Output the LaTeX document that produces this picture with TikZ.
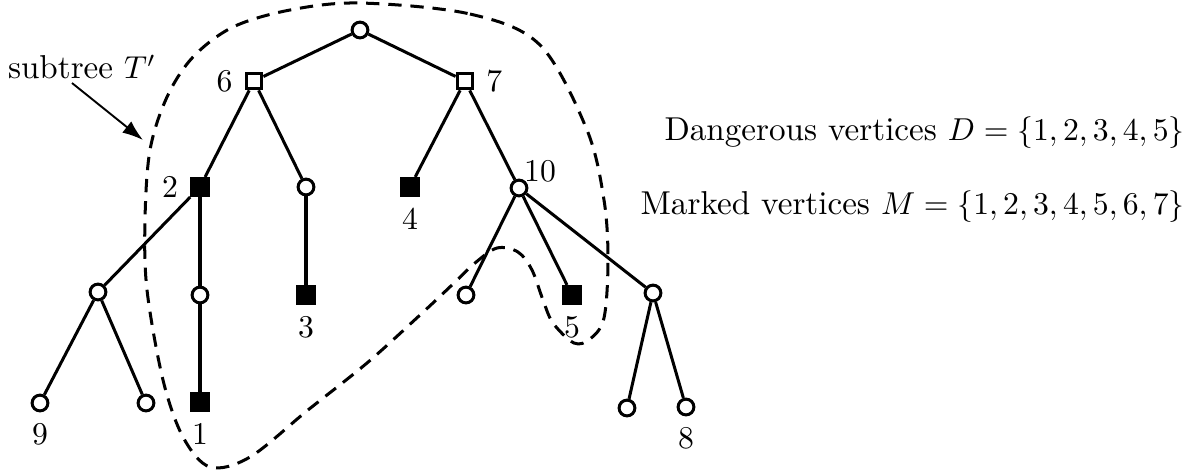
\documentclass[tikz,border=0pt]{standalone}
\usepackage{amsmath}
\usetikzlibrary{arrows.meta}

\begin{document}
\begin{tikzpicture}[x=0.0111cm,y=-0.0111cm,line width=0.95pt,
  font=\fontsize{10.45}{13}\selectfont,
  ov/.style={circle,draw,fill=white,inner sep=0pt,minimum size=0.175cm},
  os/.style={rectangle,draw,fill=white,inner sep=0pt,minimum size=0.175cm},
  fs/.style={rectangle,draw,fill=black,inner sep=0pt,minimum size=0.19cm}]
\useasboundingbox (0,0) rectangle (1195,471) ;
% vertices
\node [ov] (r) at (360,30) {} ;
\node [os,label=left:$6$] (v6) at (254,81) {} ;
\node [os,label=right:$7$] (v7) at (465,81) {} ;
\node [fs,label=left:$2$] (v2) at (200,187) {} ;
\node [ov] (a) at (306,187) {} ;
\node [fs,label=below:$4$] (v4) at (410,187) {} ;
\node [ov] (v10) at (519,188) {} ;
\node at (540,171) {$10$} ;
\node [ov] (b) at (98,292) {} ;
\node [ov] (c) at (200,295) {} ;
\node [fs,label=below:$3$] (v3) at (306,295) {} ;
\node [ov] (d) at (466,295) {} ;
\node [fs,label=below:$5$] (v5) at (572,295) {} ;
\node [ov] (e) at (653,293) {} ;
\node [ov,label=below:$9$] (v9) at (40,403) {} ;
\node [ov] (f) at (146,403) {} ;
\node [fs,label=below:$1$] (v1) at (200,402) {} ;
\node [ov] (g) at (627,408) {} ;
\node [ov,label=below:$8$] (v8) at (686,407) {} ;
% edges
\draw (r) -- (v6) ;
\draw (r) -- (v7) ;
\draw (v6) -- (v2) ;
\draw (v6) -- (a) ;
\draw (v7) -- (v4) ;
\draw (v7) -- (v10) ;
\draw (v2) -- (b) ;
\draw (v2) -- (c) ;
\draw (b) -- (v9) ;
\draw (b) -- (f) ;
\draw (c) -- (v1) ;
\draw (a) -- (v3) ;
\draw (v10) -- (d) ;
\draw (v10) -- (v5) ;
\draw (v10) -- (e) ;
\draw (e) -- (g) ;
\draw (e) -- (v8) ;
% subtree
\draw [dash pattern=on 4.2pt off 2.8pt] plot [smooth cycle, tension=0.55] coordinates {(360,3) (470,14) (540,45) (587,130) (604,200) (608,260) (604,318) (590,339) (574,343) (553,323) (543,300) (532,270) (518,252) (497,248) (475,263) (453,284) (420,315) (367,363) (308,410) (250,457) (210,467) (183,437) (163,380) (147,290) (145,220) (150,150) (167,97) (193,57) (233,27) (290,10)} ;
\node [inner sep=0pt] (lbl) at (82,67) {subtree $T'$} ;
\coordinate (tail) at (72,83) ;
\coordinate (tip) at (143,140) ;
\draw [line width=0.6pt,-{Latex[length=2.3mm,width=1.6mm]}] (tail) -- (tip) ;
\node [anchor=east,inner sep=0pt] (dv) at (1186,133) {Dangerous vertices $D=\{1,2,3,4,5\}$} ;
\node [anchor=east,inner sep=0pt] (mv) at (1186,207) {Marked vertices $M=\{1,2,3,4,5,6,7\}$} ;
\end{tikzpicture}
\end{document}
